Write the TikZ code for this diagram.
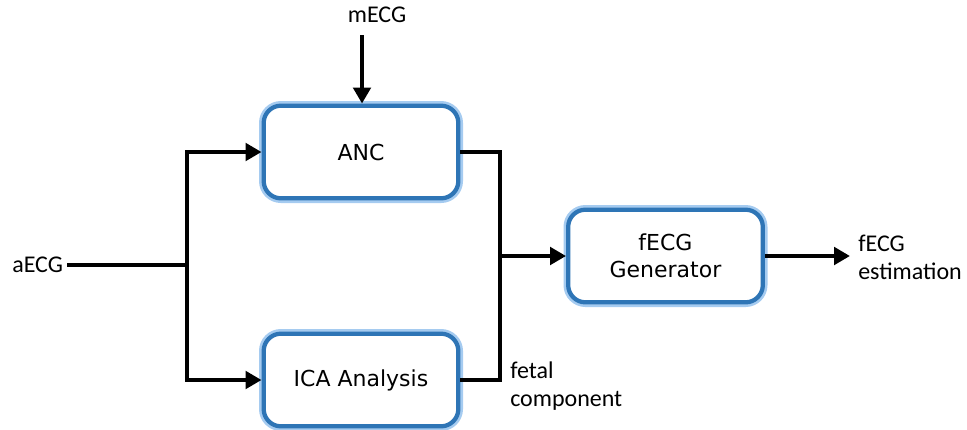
\documentclass[tikz,border=0pt]{standalone}
\usepackage{fontspec}
\setmainfont{DejaVu Sans}
\newfontfamily\labelfont{Carlito}
\usetikzlibrary{arrows.meta}
\definecolor{boxblue}{RGB}{46,117,182}
\definecolor{glowblue}{RGB}{165,203,240}
\tikzset{
  block/.style={rectangle, rounded corners=13pt, minimum width=146pt, minimum height=69.5pt,
    draw=boxblue, line width=3.2pt, fill=white, align=center,
    font=\fontsize{16.5}{20}\selectfont,
    preaction={draw=glowblue, line width=7pt}},
  lbl/.style={font=\labelfont\fontsize{18}{20.6}\selectfont, inner sep=0pt},
  wire/.style={line width=3.6pt, black},
  arrow/.style={wire, -{Triangle[length=12pt, width=13pt]}}
}
\begin{document}
\begin{tikzpicture}[x=0.75pt, y=-0.75pt]
\useasboundingbox (0,0) rectangle (967,429);
\node[block] (anc) at (361,152) {ANC};
\node[block] (ica) at (361,380) {ICA Analysis};
\node[block] (gen) at (665.5,256) {fECG\\Generator};
\node[lbl] (mecg) at (377,15) {mECG};
\node[lbl, anchor=west] (aecg) at (12,265) {aECG};
\node[lbl, anchor=north west, align=left] (fetal) at (510,362) {fetal\\component};
\node[lbl, anchor=north west, align=left] (est) at (858,235) {fECG\\estimation};
\coordinate (mtop) at (362,35);
\coordinate (split) at (187,265);
\coordinate (join) at (500,256);
\coordinate (out) at (850,256);
\draw[arrow] (mtop) -- (mtop |- anc.north);
\draw[wire] (aecg.east) ++(4,0) -- (split);
\draw[arrow] (split) |- (anc.west);
\draw[arrow] (split) |- (ica.west);
\draw[wire] (anc.east) -| (join);
\draw[wire] (ica.east) -| (join);
\draw[arrow] (join) -- (gen.west);
\draw[arrow] (gen.east) -- (out);
\end{tikzpicture}
\end{document}
